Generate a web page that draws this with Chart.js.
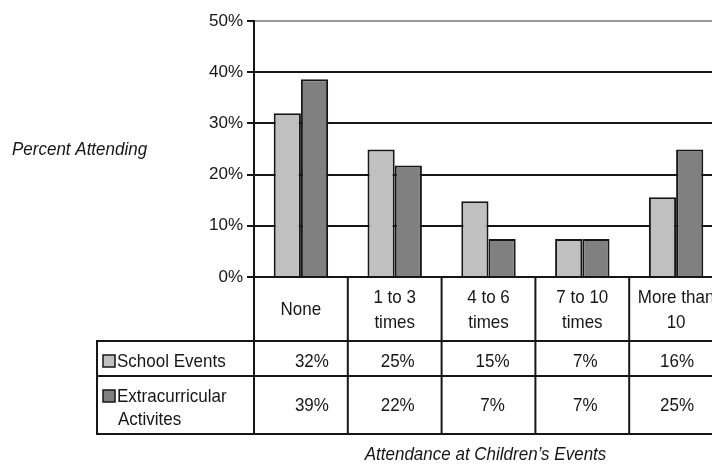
<!DOCTYPE html>
<html><head><meta charset="utf-8">
<script src="https://cdn.jsdelivr.net/npm/chart.js@4/dist/chart.umd.min.js"></script>
<style>html,body{margin:0;padding:0;background:#fff;overflow:hidden;width:712px;height:464px}canvas{display:block}</style>
</head><body>
<canvas id="c" width="740" height="464"></canvas>
<script>
const categories = [["None"], ["1 to 3", "times"], ["4 to 6", "times"], ["7 to 10", "times"], ["More than", "10"]];
const seriesNames = [["School Events"], ["Extracurricular", "Activites"]];
const schoolEvents = [32.0, 24.9, 14.8, 7.4, 15.6];
const extracurricular = [38.6, 21.8, 7.4, 7.4, 24.9];
const yTicks = [0, 10, 20, 30, 40, 50];
const yTitle = "Percent Attending";
const xTitle = "Attendance at Children\u2019s Events";

const FONT = '"Liberation Sans", Arial, Helvetica, sans-serif';
const INK = '#161616';
const COLORS = ['#c0c0c0', '#808080'];
const TEXT_STRETCH = 1.12;            // reference glyphs are slightly taller
const VALUE_NUDGE_X = [11, 3, 4, 3, 1]; // layout only

function tallText(ctx, t, x, y) {
  ctx.save();
  ctx.translate(x, y);
  ctx.scale(1, TEXT_STRETCH);
  ctx.fillText(t, 0, 0);
  ctx.restore();
}

const tablePlugin = {
  id: 'dataTable',
  afterDraw(chart) {
    const ctx = chart.ctx, xs = chart.scales.x, ca = chart.chartArea;
    const n = categories.length;
    const step = xs.getPixelForValue(1) - xs.getPixelForValue(0);
    const edges = [];
    for (let i = 0; i <= n; i++) edges.push(xs.getPixelForValue(0) - step / 2 + i * step);
    const top = ca.bottom, r1 = top + 64, r2 = r1 + 35, r3 = r2 + 58, left = 97;
    ctx.save();
    ctx.strokeStyle = INK; ctx.lineWidth = 2;
    const line = (x1, y1, x2, y2) => { ctx.beginPath(); ctx.moveTo(x1, y1); ctx.lineTo(x2, y2); ctx.stroke(); };
    line(edges[0] - 1, top, edges[n], top);
    [r1, r2, r3].forEach(y => line(left - 1, y, edges[n], y));
    edges.forEach(x => line(x, top, x, r3 + 1));
    line(left, r1, left, r3 + 1);

    ctx.fillStyle = INK;
    ctx.font = '17px ' + FONT;
    ctx.textAlign = 'center'; ctx.textBaseline = 'middle';
    const lh = 25;
    categories.forEach((lines, i) => {
      const cx = (edges[i] + edges[i + 1]) / 2;
      const cy = (top + r1) / 2 + 1;
      lines.forEach((t, j) => tallText(ctx, t, cx, cy - (lines.length - 1) * lh / 2 + j * lh));
    });
    const series = [schoolEvents, extracurricular];
    const rowY = [(r1 + r2) / 2 + 3.5, (r2 + r3) / 2 + 1];
    series.forEach((vals, s) => {
      vals.forEach((v, i) => {
        const cx = (edges[i] + edges[i + 1]) / 2 + VALUE_NUDGE_X[i];
        tallText(ctx, Math.round(v) + '%', cx, rowY[s]);
      });
    });
    // row headers with legend boxes
    ctx.textAlign = 'left';
    const nameLh = 23;
    const nameY = [rowY[0], (r2 + r3) / 2 + 3.5];
    seriesNames.forEach((lines, s) => {
      const firstY = nameY[s] - (lines.length - 1) * nameLh / 2;
      ctx.fillStyle = COLORS[s];
      ctx.fillRect(103, firstY - 7, 12, 12);
      ctx.lineWidth = 1.5; ctx.strokeStyle = INK;
      ctx.strokeRect(103, firstY - 7, 12, 12);
      ctx.fillStyle = INK;
      lines.forEach((t, j) => tallText(ctx, t, j === 0 ? 117 : 118, firstY + j * nameLh));
    });
    // titles
    ctx.font = 'italic 17px ' + FONT;
    ctx.textAlign = 'center';
    tallText(ctx, xTitle, (ca.left + ca.right) / 2 - 3, 455);
    ctx.textAlign = 'left';
    tallText(ctx, yTitle, 12, (ca.top + ca.bottom) / 2 + 1);
    ctx.restore();
  }
};

new Chart(document.getElementById('c'), {
  type: 'bar',
  data: {
    labels: categories,
    datasets: [
      { label: seriesNames[0].join(' '), data: schoolEvents, backgroundColor: COLORS[0], borderColor: INK, borderWidth: 2 },
      { label: seriesNames[1].join(' '), data: extracurricular, backgroundColor: COLORS[1], borderColor: INK, borderWidth: 2 }
    ]
  },
  options: {
    responsive: false,
    devicePixelRatio: 1,
    animation: false,
    events: [],
    layout: { padding: { left: 194, top: 21, right: 17, bottom: 187 } },
    plugins: { legend: { display: false }, tooltip: { enabled: false } },
    datasets: { bar: { categoryPercentage: 0.58, barPercentage: 1.0 } },
    scales: {
      x: { display: false },
      y: {
        min: 0, max: 50,
        afterBuildTicks(scale) { scale.ticks = yTicks.map(v => ({ value: v })); },
        afterFit(scale) { scale.width = 60; },
        ticks: { callback: v => v + '%', font: { family: FONT, size: 17 }, color: INK, padding: 4 },
        grid: {
          color: c => (c.tick && c.tick.value === 50) ? '#9a9a9a' : INK,
          tickColor: INK, lineWidth: 2, tickLength: 7, drawTicks: true
        },
        border: { display: true, color: INK, width: 2 }
      }
    }
  },
  plugins: [tablePlugin]
});
</script>
</body></html>
